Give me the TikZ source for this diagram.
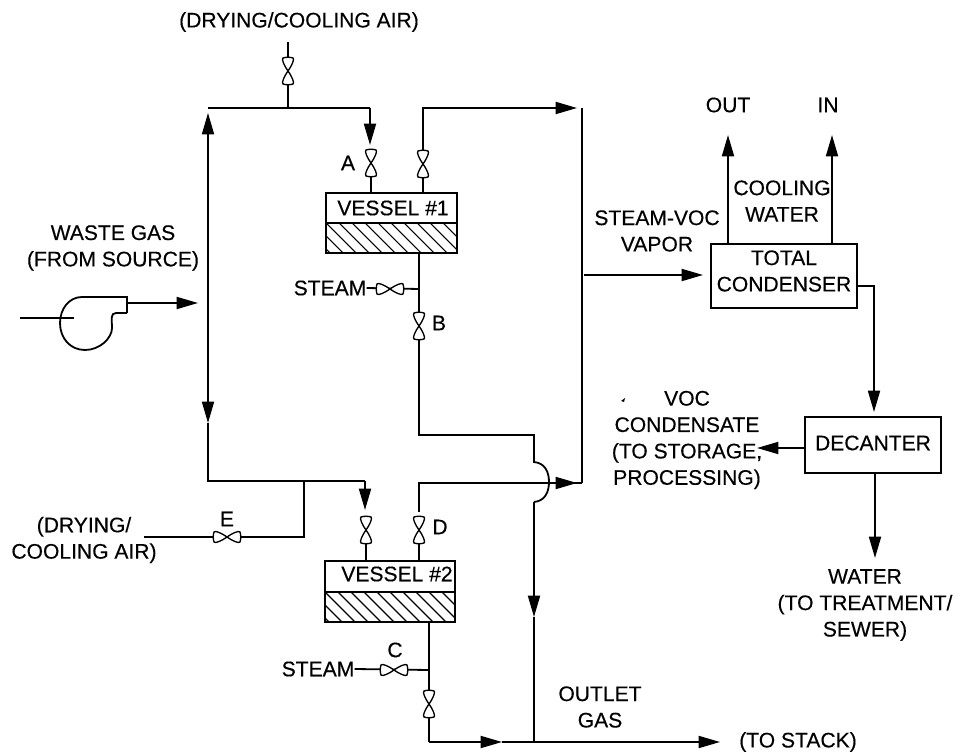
\documentclass[tikz,border=0pt]{standalone}
\usepackage{fontspec}
\setmainfont[FakeBold=0.35]{Liberation Sans}
\usetikzlibrary{arrows.meta,calc}
\tikzset{
  pipe/.style={line width=1.35pt,line join=miter},
  flow/.style={pipe,-{Triangle[length=16pt,width=9pt]}},
  box/.style={draw,line width=1.35pt,inner sep=0pt},
  hatch/.style={path picture={
    \foreach \k in {-3,...,10}
      \draw[line width=.8pt] ($(path picture bounding box.north west)+(13*\k,0)$) -- ++(31,31);}},
  lbl/.style={inner sep=0pt,align=center,font=\fontsize{15.8}{19.8}\selectfont},
  valve/.pic={
    \draw[line width=1pt,fill=white] (0,0) .. controls (-4,-3) and (-12,-7) .. (-13,-5) .. controls (-14,-2) and (-14,2) .. (-13,5) .. controls (-12,7) and (-4,3) .. (0,0);
    \draw[line width=1pt,fill=white] (0,0) .. controls (4,-3) and (12,-7) .. (13,-5) .. controls (14,-2) and (14,2) .. (13,5) .. controls (12,7) and (4,3) .. (0,0);
  }
}
\begin{document}
\begin{tikzpicture}[x=0.75pt,y=-0.75pt]
\useasboundingbox (0,0) rectangle (964,755);
% vessels
\node[box,minimum width=98.25pt,minimum height=22.5pt] (v1) at (391.5,208) {};
\node[box,hatch,minimum width=98.25pt,minimum height=22.5pt] (b1) at (391.5,238) {};
\node[box,minimum width=97.5pt,minimum height=23.25pt] (v2) at (390,576.5) {};
\node[box,hatch,minimum width=97.5pt,minimum height=22.5pt] (b2) at (390,607) {};
\node[box,minimum width=109.5pt,minimum height=48pt] (cond) at (784,276) {};
\node[box,minimum width=102pt,minimum height=42pt] (dec) at (873,445) {};
% labels
\node[lbl] (t1) at (393,208) {VESSEL \#1};
\node[lbl] (t2) at (397,574) {VESSEL \#2};
\node[lbl] (t3) at (784,271) {TOTAL\\CONDENSER};
\node[lbl] (t4) at (873,443) {DECANTER};
\node[lbl] (air1) at (299,22) {(DRYING/COOLING AIR)};
\node[lbl] (waste) at (113,248) {WASTE GAS\\(FROM SOURCE)};
\node[lbl] (out) at (728,105) {OUT};
\node[lbl] (in) at (828,105) {IN};
\node[lbl] (cw) at (782,201) {COOLING\\WATER};
\node[lbl] (sv) at (657,231) {STEAM-VOC\\VAPOR};
\node[lbl] (voc) at (687,440) {VOC\\CONDENSATE\\(TO STORAGE,\\PROCESSING)};
\node[lbl] (water) at (865,605) {WATER\\(TO TREATMENT/\\SEWER)};
\node[lbl] (og) at (600,707) {OUTLET\\GAS};
\node[lbl] (stack) at (798,742) {(TO STACK)};
\node[lbl] (air2) at (84,540) {(DRYING/\\COOLING AIR)};
\node[lbl] (s1) at (330,288) {STEAM};
\node[lbl] (s2) at (318,669) {STEAM};
\node[lbl] (la) at (348,163) {A};
\node[lbl] (lb) at (439,323) {B};
\node[lbl] (lc) at (395,650) {C};
\node[lbl] (ld) at (440,527) {D};
\node[lbl] (le) at (227,519) {E};
% junction coordinates
\coordinate (airtop) at (288,42);
\coordinate (airj) at (288,108);
\coordinate (hl) at (208,108);
\coordinate (a1) at (370,108);
\coordinate (a2) at (370,145);
\coordinate (a3) at (371,150);
\coordinate (r1) at (423,108);
\coordinate (r2) at (577,108);
\coordinate (rt) at (582,108);
\coordinate (rb) at (582,483);
\coordinate (lup) at (208,113);
\coordinate (lmid) at (208,303);
\coordinate (ldn) at (208,423);
\coordinate (lbot) at (208,481);
\coordinate (m1) at (365,481);
\coordinate (m2) at (365,510);
\coordinate (m3) at (366,517);
\coordinate (ej) at (304,481);
\coordinate (ec) at (304,537);
\coordinate (es) at (144,537);
\coordinate (d1) at (419,512);
\coordinate (d2) at (419,483);
\coordinate (d3) at (419,517);
\coordinate (d4) at (577,483);
\coordinate (bj) at (419,289);
\coordinate (bk) at (419,435);
\coordinate (bl) at (534,435);
\coordinate (bm) at (534,462);
\coordinate (bn) at (534,502);
\coordinate (bo) at (534,617);
\coordinate (bp) at (534,742);
\coordinate (cj) at (429,670);
\coordinate (cb) at (429,742);
\coordinate (cm) at (502,742);
\coordinate (stk) at (720,742);
\coordinate (fo) at (127,303);
\coordinate (ft) at (198,303);
\coordinate (fa) at (20,318);
\coordinate (fb) at (74,318);
\coordinate (sv1) at (584,275);
\coordinate (sv2) at (703,275);
\coordinate (cw1) at (728,135);
\coordinate (cw2) at (832,135);
\coordinate (co1) at (874,286);
\coordinate (co2) at (874,412);
\coordinate (dl) at (757,448);
\coordinate (dw) at (875,558);
% pipes
\draw[pipe] (airtop) -- (airj);
\draw[pipe] (hl) -- (a1);
\draw[flow] (a1) -- (a2);
\draw[pipe] (a3) -- (v1.north -| a3);
\draw[flow] (v1.north -| r1) -- (r1) -- (r2);
\draw[pipe] (rt) -- (rb);
\draw[flow] (lmid) -- (lup);
\draw[flow] (lmid) -- (ldn);
\draw[pipe] (ldn) -- (lbot) -- (m1);
\draw[flow] (m1) -- (m2);
\draw[pipe] (m3) -- (v2.north -| m3);
\draw[pipe] (ej) -- (ec) -- (es);
\draw[pipe] (d3) -- (v2.north -| d3);
\draw[pipe] (d1) -- (d2) -- (rb);
\draw[flow] (d2) -- (d4);
\draw[pipe] (b1.south -| bj) -- (bk) -- (bl) -- (bm) .. controls (545,463) and (549,472) .. (549,482) .. controls (549,492) and (545,501) .. (bn);
\draw[flow] (bn) -- (bo);
\draw[pipe] (bo) -- (bp);
\draw[pipe] (s1.east) -- (bj);
\draw[pipe] (s2.east) -- (cj);
\draw[pipe] (b2.south -| cj) -- (cb);
\draw[flow] (cb) -- (cm);
\draw[flow] (cm) -- (stk);
% fan
\draw[pipe] (fa) -- (fb);
\draw[pipe] (127,313) -- (127,297) -- (82,297) .. controls (69,297) and (60,309) .. (60,323) .. controls (60,338) and (70,350) .. (85,350) .. controls (100,350) and (112,338) .. (112,328) .. controls (112,320) and (110,313) .. (116,313) -- (127,313);
\draw[flow] (fo) -- (ft);
% right side
\draw[flow] (sv1) -- (sv2);
\draw[flow] (cond.north -| cw1) -- (cw1);
\draw[flow] (cond.north -| cw2) -- (cw2);
\draw[pipe] (cond.east |- co1) -- (co1) -- ($(co1)!.85!(co2)$);
\draw[flow] ($(co1)!.7!(co2)$) -- (co2);
\draw[flow] (dec.west |- dl) -- (dl);
\draw[flow] (dec.south -| dw) -- (dw);
\fill (621,401) -- (625,398) -- (624,402) -- cycle;
% valves
\pic[rotate=90] at (288,71) {valve};
\pic[rotate=90] at (371,163) {valve};
\pic[rotate=90] at (423,164) {valve};
\pic at (390,289) {valve};
\pic[rotate=90] at (419,326) {valve};
\pic at (227,537) {valve};
\pic[rotate=90] at (366,530) {valve};
\pic[rotate=90] at (419,530) {valve};
\pic at (394,670) {valve};
\pic[rotate=90] at (429,704) {valve};
\end{tikzpicture}
\end{document}
